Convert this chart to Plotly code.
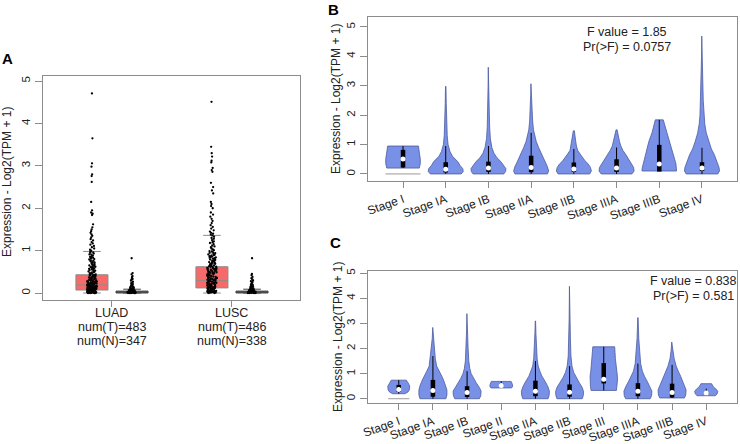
import plotly.graph_objects as go

# ---------------- Panel A data ----------------
cancer_types = ["LUAD", "LUSC"]
num_tumor = [483, 486]
num_normal = [347, 338]
group_pos = [1, 2]
tumor_q1 = [0.07, 0.12]
tumor_median = [0.19, 0.29]
tumor_q3 = [0.43, 0.62]
tumor_lower = [0.0, 0.0]
tumor_upper = [0.98, 1.36]
normal_q1 = [0.0, 0.0]
normal_median = [0.02, 0.02]
normal_q3 = [0.045, 0.045]
normal_lower = [0.0, 0.0]
normal_upper = [0.09, 0.09]

luad_tumor_points = [
    4.71, 3.65, 3.06, 2.98, 2.80, 2.76, 2.62, 2.15, 1.95, 1.90, 1.87, 1.84, 1.62, 1.55, 1.50,
    1.46, 1.42, 1.38, 1.35, 1.31, 1.27, 1.24, 1.20, 1.17, 1.14, 1.11, 1.08, 1.05, 1.02, 1.00,
    0.98, 0.96, 0.95, 0.93, 0.91, 0.90, 0.88, 0.86, 0.85, 0.83, 0.82, 0.80, 0.79, 0.77, 0.76,
    0.75, 0.73, 0.72, 0.71, 0.70, 0.68, 0.67, 0.66, 0.65, 0.64, 0.63, 0.62, 0.61, 0.60, 0.59,
    0.58, 0.57, 0.56, 0.55, 0.54, 0.53, 0.52, 0.51, 0.50, 0.49, 0.48, 0.47, 0.46, 0.45, 0.44,
    0.43, 0.42, 0.41, 0.40, 0.39, 0.38, 0.37, 0.36, 0.35, 0.34, 0.33, 0.32, 0.31, 0.30, 0.29,
    0.43, 0.41, 0.39, 0.37, 0.35, 0.33, 0.31, 0.29, 0.27, 0.25, 0.23, 0.21, 0.19, 0.17, 0.15,
    0.28, 0.28, 0.27, 0.26, 0.25, 0.25, 0.24, 0.23, 0.22, 0.22, 0.21, 0.20, 0.20, 0.19, 0.19,
    0.18, 0.18, 0.17, 0.17, 0.16, 0.16, 0.15, 0.15, 0.14, 0.14, 0.13, 0.13, 0.12, 0.12, 0.12,
    0.11, 0.11, 0.10, 0.10, 0.10, 0.09, 0.09, 0.09, 0.08, 0.08, 0.08, 0.07, 0.07, 0.07, 0.06,
    0.06, 0.06, 0.05, 0.05, 0.05, 0.05, 0.04, 0.04, 0.04, 0.04, 0.03, 0.03, 0.03, 0.03, 0.02,
    0.02, 0.02, 0.02, 0.01, 0.01, 0.01, 0.01, 0.00, 0.00, 0.00, 0.00, 0.00, 0.01, 0.02, 0.03,
    0.04, 0.05, 0.06, 0.07, 0.08, 0.09, 0.11, 0.13, 0.14, 0.16, 0.18, 0.21, 0.24, 0.26, 0.32,
    0.00, 0.01, 0.02, 0.03, 0.04, 0.06, 0.08, 0.10, 0.12, 0.15, 0.18, 0.22, 0.27, 0.34, 0.40,
]
luad_normal_points = [
    0.82, 0.47, 0.44, 0.40, 0.38, 0.35, 0.33, 0.31, 0.29, 0.27, 0.25, 0.23, 0.21, 0.20, 0.18,
    0.17, 0.16, 0.15, 0.14, 0.13, 0.12, 0.12, 0.11, 0.10, 0.10, 0.09, 0.09, 0.08, 0.08, 0.08,
    0.07, 0.07, 0.07, 0.06, 0.06, 0.06, 0.05, 0.05, 0.05, 0.05, 0.04, 0.04, 0.04, 0.04, 0.03,
    0.03, 0.03, 0.03, 0.03, 0.02, 0.02, 0.02, 0.02, 0.02, 0.01, 0.01, 0.01, 0.01, 0.01, 0.00,
    0.00, 0.00, 0.00, 0.00, 0.01, 0.02, 0.03, 0.04, 0.05, 0.06, 0.00, 0.01, 0.02, 0.03,
]
lusc_tumor_points = [
    4.51, 3.45, 3.30, 3.22, 3.12, 3.08, 2.95, 2.90, 2.86, 2.60, 2.50, 2.42, 2.35, 2.15, 2.10,
    2.05, 2.00, 1.90, 1.85, 1.80, 1.75, 1.70, 1.65, 1.60, 1.56, 1.52, 1.48, 1.45, 1.42, 1.40,
    1.38, 1.36, 1.33, 1.30, 1.28, 1.25, 1.22, 1.20, 1.18, 1.15, 1.12, 1.10, 1.08, 1.05, 1.03,
    1.01, 0.99, 0.98, 0.96, 0.95, 0.94, 0.92, 0.91, 0.90, 0.89, 0.88, 0.87, 0.86, 0.85, 0.84,
    0.83, 0.82, 0.81, 0.80, 0.79, 0.78, 0.77, 0.76, 0.75, 0.74, 0.73, 0.72, 0.71, 0.70, 0.69,
    0.68, 0.67, 0.66, 0.65, 0.64, 0.63, 0.62, 0.61, 0.60, 0.59, 0.58, 0.57, 0.56, 0.55, 0.54,
    0.53, 0.52, 0.51, 0.50, 0.49, 0.48, 0.47, 0.46, 0.45, 0.44, 0.43, 0.42, 0.41, 0.40, 0.39,
    0.38, 0.37, 0.36, 0.35, 0.34, 0.33, 0.32, 0.31, 0.30, 0.30, 0.29, 0.28, 0.27, 0.26, 0.25,
    0.25, 0.24, 0.23, 0.22, 0.21, 0.20, 0.20, 0.19, 0.18, 0.17, 0.16, 0.15, 0.15, 0.14, 0.13,
    0.12, 0.12, 0.11, 0.10, 0.10, 0.09, 0.08, 0.08, 0.07, 0.06, 0.06, 0.05, 0.05, 0.04, 0.04,
    0.03, 0.03, 0.02, 0.02, 0.01, 0.01, 0.00, 0.00, 0.02, 0.05, 0.08, 0.11, 0.14, 0.18, 0.22,
    0.27, 0.31, 0.36, 0.41, 0.46, 0.52, 0.58, 0.64, 0.70, 0.03, 0.07, 0.12, 0.17, 0.23, 0.29,
    0.35, 0.42, 0.48, 0.55, 0.62, 0.01, 0.04, 0.09, 0.13, 0.19, 0.24, 0.33, 0.39, 0.47, 0.57,
]
lusc_normal_points = [
    0.82, 0.45, 0.42, 0.38, 0.35, 0.32, 0.30, 0.28, 0.26, 0.24, 0.22, 0.20, 0.19, 0.17, 0.16,
    0.15, 0.14, 0.13, 0.12, 0.11, 0.10, 0.10, 0.09, 0.09, 0.08, 0.08, 0.07, 0.07, 0.07, 0.06,
    0.06, 0.06, 0.05, 0.05, 0.05, 0.04, 0.04, 0.04, 0.04, 0.03, 0.03, 0.03, 0.03, 0.02, 0.02,
    0.02, 0.02, 0.02, 0.01, 0.01, 0.01, 0.01, 0.00, 0.00, 0.00, 0.00, 0.01, 0.02, 0.03, 0.05,
]

# ---------------- Panel B data ----------------
b_stages = ["Stage I", "Stage IA", "Stage IB", "Stage IIA", "Stage IIB", "Stage IIIA", "Stage IIIB", "Stage IV"]
b_profile_y = [
    [0.20, 0.35, 0.50, 0.70, 0.85, 0.95],
    [0.00, 0.08, 0.18, 0.28, 0.42, 0.60, 0.76, 1.00, 1.30, 1.80, 2.40, 2.98],
    [0.00, 0.08, 0.18, 0.30, 0.42, 0.55, 0.70, 0.90, 1.20, 1.60, 2.20, 3.00, 3.63],
    [0.00, 0.10, 0.25, 0.40, 0.55, 0.70, 0.90, 1.10, 1.30, 1.50, 1.80, 2.30, 2.70, 3.07],
    [0.00, 0.10, 0.22, 0.35, 0.45, 0.55, 0.65, 0.80, 0.95, 1.15, 1.35, 1.47],
    [0.00, 0.10, 0.22, 0.35, 0.50, 0.65, 0.80, 0.95, 1.10, 1.30, 1.50],
    [0.10, 0.20, 0.35, 0.50, 0.80, 1.10, 1.40, 1.67, 1.84],
    [0.00, 0.10, 0.22, 0.35, 0.50, 0.65, 0.85, 1.10, 1.40, 1.70, 2.00, 2.50, 3.20, 4.00, 4.69],
]
b_profile_w = [
    [0.38, 0.405, 0.405, 0.39, 0.37, 0.36],
    [0.36, 0.41, 0.40, 0.34, 0.28, 0.16, 0.10, 0.055, 0.035, 0.02, 0.012, 0.005],
    [0.36, 0.40, 0.41, 0.36, 0.29, 0.20, 0.13, 0.08, 0.045, 0.028, 0.016, 0.008, 0.004],
    [0.38, 0.41, 0.38, 0.33, 0.29, 0.23, 0.175, 0.12, 0.08, 0.055, 0.035, 0.018, 0.01, 0.005],
    [0.37, 0.41, 0.39, 0.33, 0.26, 0.20, 0.16, 0.09, 0.06, 0.04, 0.025, 0.012],
    [0.36, 0.41, 0.40, 0.35, 0.28, 0.22, 0.15, 0.10, 0.07, 0.04, 0.012],
    [0.405, 0.40, 0.39, 0.36, 0.30, 0.245, 0.17, 0.125, 0.093],
    [0.37, 0.41, 0.40, 0.37, 0.33, 0.29, 0.22, 0.16, 0.10, 0.065, 0.047, 0.03, 0.018, 0.01, 0.005],
]
b_q1 = [0.22, 0.05, 0.07, 0.06, 0.07, 0.07, 0.08, 0.10]
b_median = [0.51, 0.16, 0.20, 0.22, 0.17, 0.20, 0.34, 0.20]
b_q3 = [0.82, 0.40, 0.42, 0.62, 0.39, 0.50, 0.99, 0.40]
b_whisker_lo = [0.20, 0.00, 0.00, 0.00, 0.00, 0.00, 0.10, 0.00]
b_whisker_hi = [0.95, 0.95, 0.95, 1.40, 0.85, 0.90, 1.84, 0.89]
b_stats = ["F value = 1.85", "Pr(>F) = 0.0757"]

# ---------------- Panel C data ----------------
c_stages = ["Stage I", "Stage IA", "Stage IB", "Stage II", "Stage IIA", "Stage IIB",
            "Stage III", "Stage IIIA", "Stage IIIB", "Stage IV"]
c_profile_y = [
    [0.20, 0.27, 0.35, 0.50, 0.62, 0.74],
    [0.00, 0.15, 0.35, 0.55, 0.75, 0.90, 1.10, 1.30, 1.60, 2.00, 2.40, 2.84],
    [0.00, 0.12, 0.30, 0.45, 0.63, 0.80, 1.00, 1.20, 1.50, 2.00, 2.70, 3.39],
    [0.43, 0.48, 0.56, 0.63, 0.69],
    [0.00, 0.12, 0.30, 0.50, 0.70, 0.90, 1.10, 1.30, 1.60, 2.00, 2.60, 3.10],
    [0.00, 0.12, 0.28, 0.45, 0.65, 0.85, 1.05, 1.30, 1.70, 2.30, 3.20, 4.48],
    [0.33, 0.50, 0.70, 0.90, 1.10, 1.30, 1.60, 1.85, 2.07],
    [0.00, 0.12, 0.30, 0.50, 0.70, 0.90, 1.10, 1.40, 1.80, 2.40, 3.23],
    [0.03, 0.15, 0.35, 0.55, 0.75, 0.90, 1.10, 1.30, 1.60, 1.90, 2.26],
    [0.12, 0.20, 0.29, 0.38, 0.47, 0.55, 0.60],
]
c_profile_w = [
    [0.18, 0.27, 0.31, 0.32, 0.28, 0.22],
    [0.38, 0.41, 0.41, 0.37, 0.31, 0.26, 0.18, 0.11, 0.07, 0.05, 0.02, 0.005],
    [0.36, 0.40, 0.41, 0.36, 0.27, 0.19, 0.12, 0.08, 0.05, 0.03, 0.015, 0.005],
    [0.30, 0.33, 0.33, 0.31, 0.29],
    [0.37, 0.40, 0.41, 0.36, 0.28, 0.19, 0.13, 0.08, 0.05, 0.03, 0.015, 0.005],
    [0.37, 0.40, 0.41, 0.37, 0.28, 0.19, 0.12, 0.07, 0.04, 0.025, 0.012, 0.004],
    [0.37, 0.39, 0.40, 0.40, 0.38, 0.36, 0.34, 0.33, 0.32],
    [0.36, 0.40, 0.41, 0.35, 0.27, 0.19, 0.13, 0.08, 0.05, 0.025, 0.005],
    [0.36, 0.40, 0.41, 0.36, 0.30, 0.25, 0.18, 0.12, 0.06, 0.03, 0.01],
    [0.27, 0.32, 0.34, 0.29, 0.21, 0.17, 0.155],
]
c_q1 = [0.27, 0.08, 0.07, 0.50, 0.10, 0.08, 0.61, 0.10, 0.05, 0.18]
c_median = [0.37, 0.33, 0.25, 0.53, 0.30, 0.26, 0.78, 0.30, 0.25, 0.23]
c_q3 = [0.55, 0.75, 0.50, 0.60, 0.72, 0.57, 1.42, 0.62, 0.60, 0.28]
c_whisker_lo = [0.20, 0.00, 0.00, 0.43, 0.00, 0.00, 0.33, 0.00, 0.03, 0.12]
c_whisker_hi = [0.74, 1.70, 1.10, 0.69, 1.50, 1.30, 2.07, 1.40, 1.35, 0.40]
c_stats = ["F value = 0.838", "Pr(>F) = 0.581"]

y_ticks = [0, 1, 2, 3, 4, 5]
y_title = "Expression - Log2(TPM + 1)"

# ---------------- styles ----------------
FONT = "Liberation Sans, Arial, Helvetica, sans-serif"
TUMOR_FILL = "#F76A6A"
NORMAL_FILL = "#6E6E6E"
BOX_LINE = "#8C8C8C"
VIOLIN_FILL = "#7890E6"
VIOLIN_LINE = "#4C5C9E"
AXIS_GRAY = "#8C8C8C"

fig = go.Figure()

# ---- Panel A: boxes ----
box_w = 0.267
offset = 0.167
fig.add_trace(go.Box(
    x=[p - offset for p in group_pos], q1=tumor_q1, median=tumor_median, q3=tumor_q3,
    lowerfence=tumor_lower, upperfence=tumor_upper, width=box_w, whiskerwidth=0.55,
    fillcolor=TUMOR_FILL, line=dict(color=BOX_LINE, width=1), boxpoints=False,
    hoverinfo="skip", xaxis="x", yaxis="y", showlegend=False))
fig.add_trace(go.Box(
    x=[p + offset for p in group_pos], q1=normal_q1, median=normal_median, q3=normal_q3,
    lowerfence=normal_lower, upperfence=normal_upper, width=box_w, whiskerwidth=0.55,
    fillcolor=NORMAL_FILL, line=dict(color="#444444", width=1), boxpoints=False,
    hoverinfo="skip", xaxis="x", yaxis="y", showlegend=False))

point_sets = [
    (group_pos[0] - offset, luad_tumor_points),
    (group_pos[0] + offset, luad_normal_points),
    (group_pos[1] - offset, lusc_tumor_points),
    (group_pos[1] + offset, lusc_normal_points),
]
for xpos, pts in point_sets:
    fig.add_trace(go.Box(
        y=pts, x0=xpos, width=box_w, boxpoints="all", jitter=0.3, pointpos=0,
        fillcolor="rgba(0,0,0,0)", line=dict(color="rgba(0,0,0,0)", width=0),
        marker=dict(color="black", size=2.3), hoverinfo="skip",
        xaxis="x", yaxis="y", showlegend=False))


def add_violin_panel(xa, ya, prof_y, prof_w, q1, med, q3, wlo, whi, zero_line_w):
    n = len(prof_y)
    for i in range(n):
        c = i + 1
        ys, ws = prof_y[i], prof_w[i]
        xs = [c + w for w in ws] + [c - w for w in reversed(ws)]
        yy = list(ys) + list(reversed(ys))
        xs.append(xs[0])
        yy.append(yy[0])
        fig.add_trace(go.Scatter(
            x=xs, y=yy, mode="lines", fill="toself", fillcolor=VIOLIN_FILL,
            line=dict(color=VIOLIN_LINE, width=0.8), hoverinfo="skip",
            xaxis=xa, yaxis=ya, showlegend=False))
    fig.add_trace(go.Scatter(
        x=[1 - zero_line_w, 1 + zero_line_w], y=[0, 0], mode="lines",
        line=dict(color="#9A9A9A", width=1), hoverinfo="skip",
        xaxis=xa, yaxis=ya, showlegend=False))
    wx, wy, bx, by = [], [], [], []
    for i in range(n):
        c = i + 1
        wx += [c, c, None]
        wy += [wlo[i], whi[i], None]
        bx += [c, c, None]
        by += [q1[i], q3[i], None]
    fig.add_trace(go.Scatter(x=wx, y=wy, mode="lines", line=dict(color="black", width=1),
                             hoverinfo="skip", xaxis=xa, yaxis=ya, showlegend=False))
    fig.add_trace(go.Scatter(x=bx, y=by, mode="lines", line=dict(color="black", width=4.5),
                             hoverinfo="skip", xaxis=xa, yaxis=ya, showlegend=False))
    fig.add_trace(go.Scatter(x=list(range(1, n + 1)), y=med, mode="markers",
                             marker=dict(color="white", size=5, line=dict(width=0)),
                             hoverinfo="skip", xaxis=xa, yaxis=ya, showlegend=False))


add_violin_panel("x2", "y2", b_profile_y, b_profile_w, b_q1, b_median, b_q3,
                 b_whisker_lo, b_whisker_hi, 0.41)
add_violin_panel("x3", "y3", c_profile_y, c_profile_w, c_q1, c_median, c_q3,
                 c_whisker_lo, c_whisker_hi, 0.31)

W, H = 740, 444


def px_x(v):
    return v / W


def px_y(v):
    return 1 - v / H


axis_common = dict(showline=True, linecolor=AXIS_GRAY, linewidth=1, mirror=True,
                   ticks="outside", ticklen=6, tickcolor=AXIS_GRAY, showgrid=False,
                   zeroline=False, automargin=False,
                   tickfont=dict(family=FONT, size=12, color="#222"))
yaxis_common = dict(axis_common, tickvals=y_ticks, tickangle=-90, ticklen=7,
                    tickfont=dict(family=FONT, size=11.5, color="#222"))

fig.update_layout(
    width=W, height=H, margin=dict(l=0, r=0, t=0, b=0),
    paper_bgcolor="white", plot_bgcolor="white",
    font=dict(family=FONT, color="#222"),
    xaxis=dict(axis_common, domain=[px_x(43), px_x(300)], range=[0.425, 2.567],
               tickvals=group_pos, showticklabels=False, anchor="y"),
    yaxis=dict(yaxis_common, domain=[px_y(300), px_y(76)], range=[-0.165, 5.12], anchor="x"),
    xaxis2=dict(axis_common, domain=[px_x(368), px_x(737)], range=[0.18, 8.82],
                tickvals=list(range(1, len(b_stages) + 1)), ticktext=b_stages,
                tickangle=-20, anchor="y2"),
    yaxis2=dict(yaxis_common, domain=[px_y(181), px_y(17)], range=[-0.24, 5.34], anchor="x2"),
    xaxis3=dict(axis_common, domain=[px_x(368), px_x(737)], range=[0.1, 10.9],
                tickvals=list(range(1, len(c_stages) + 1)), ticktext=c_stages,
                tickangle=-20, anchor="y3"),
    yaxis3=dict(yaxis_common, domain=[px_y(403), px_y(271)], range=[-0.17, 5.09], anchor="x3"),
)

annots = []
# panel A category labels (three lines under each group)
for pos, ct, nt, nn in zip(group_pos, cancer_types, num_tumor, num_normal):
    for j, line in enumerate([ct, f"num(T)={nt}", f"num(N)={nn}"]):
        annots.append(dict(text=line, x=pos, y=px_y(313 + 14 * j), xref="x", yref="paper",
                           showarrow=False, font=dict(family=FONT, size=12.5, color="#222"),
                           xanchor="center", yanchor="middle"))
# panel letters
for letter, (lx, ly) in {"A": (7, 59), "B": (333, 9), "C": (335, 242)}.items():
    annots.append(dict(text=f"<b>{letter}</b>", x=px_x(lx), y=px_y(ly), xref="paper", yref="paper",
                       showarrow=False, font=dict(family=FONT, size=15, color="black"),
                       xanchor="center", yanchor="middle"))
# y titles
for tx, ty in [(7, 182), (336, 99), (338, 337)]:
    annots.append(dict(text=y_title, x=px_x(tx), y=px_y(ty), xref="paper", yref="paper",
                       showarrow=False, textangle=-90, font=dict(family=FONT, size=12, color="#222"),
                       xanchor="center", yanchor="middle"))
# statistics
for i, s in enumerate(b_stats):
    annots.append(dict(text=s, x=px_x(627), y=px_y(32 + 15 * i), xref="paper", yref="paper",
                       showarrow=False, font=dict(family=FONT, size=12.5, color="#222"),
                       xanchor="center", yanchor="middle"))
for i, s in enumerate(c_stats):
    annots.append(dict(text=s, x=px_x(693), y=px_y(281 + 15 * i), xref="paper", yref="paper",
                       showarrow=False, font=dict(family=FONT, size=12.5, color="#222"),
                       xanchor="center", yanchor="middle"))
fig.update_layout(annotations=annots)

fig.write_html("out.html", config={"displayModeBar": False},
               post_script="document.body.style.margin='0';document.body.style.overflow='hidden';")
